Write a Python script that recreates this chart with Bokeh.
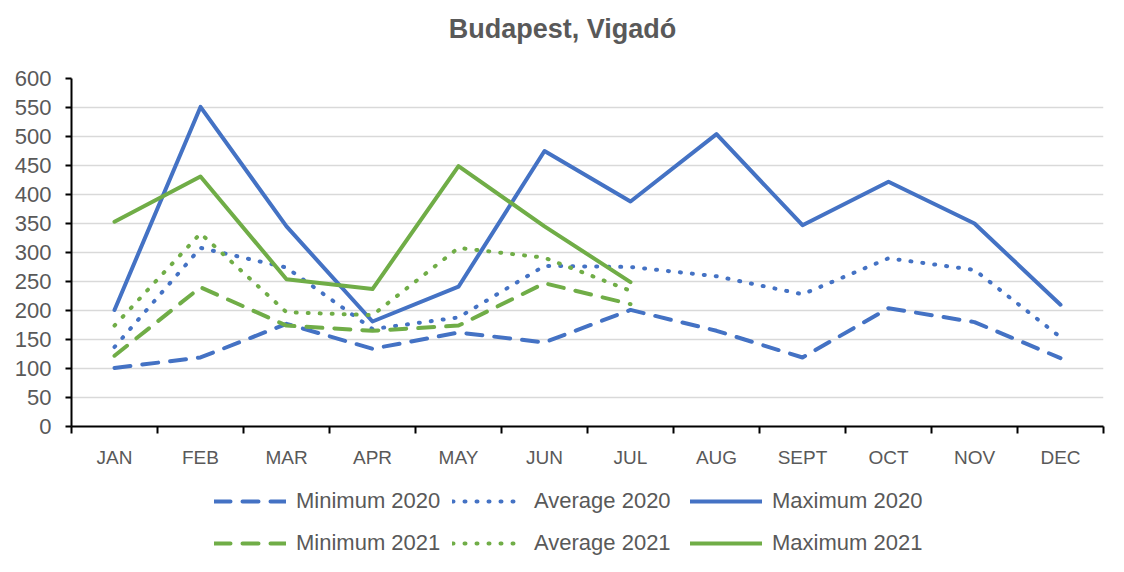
from bokeh.plotting import figure
from bokeh.models import FixedTicker, Legend, LegendItem, Range1d, Label
from bokeh.layouts import column
from bokeh.embed import file_html
from bokeh.resources import INLINE

title_text = "Budapest, Vigadó"
months = ["JAN", "FEB", "MAR", "APR", "MAY", "JUN", "JUL", "AUG", "SEPT", "OCT", "NOV", "DEC"]
min_2020 = [101, 119, 177, 134, 162, 145, 201, 165, 119, 204, 180, 118]
avg_2020 = [137, 308, 274, 168, 188, 277, 275, 259, 228, 290, 270, 154]
max_2020 = [201, 551, 345, 181, 241, 475, 388, 504, 347, 422, 350, 210]
min_2021 = [122, 240, 174, 165, 174, 247, 211]
avg_2021 = [174, 333, 197, 192, 308, 291, 234]
max_2021 = [353, 431, 254, 237, 449, 345, 249]
series_labels = ["Minimum 2020", "Average 2020", "Maximum 2020",
                 "Minimum 2021", "Average 2021", "Maximum 2021"]

BLUE = "#4472C4"
GREEN = "#70AD47"
TXT = "#595959"
FONT = "Liberation Sans"
W_FIG = 1108


def blank_strip(h):
    f = figure(width=W_FIG, height=h, output_backend="svg", toolbar_location=None,
               x_range=Range1d(0, 1), y_range=Range1d(0, 1),
               x_axis_type=None, y_axis_type=None, min_border=0)
    f.outline_line_color = None
    f.grid.grid_line_color = None
    f.title.visible = False
    return f


# ---- title strip
pt = blank_strip(56)
pt.add_layout(Label(x=562, y=28, x_units="canvas", y_units="canvas", text=title_text,
                    text_align="center", text_baseline="middle", text_font=FONT,
                    text_font_size="27px", text_font_style="bold", text_color=TXT))

# ---- main chart
xs = list(range(1, len(months) + 1))

p = figure(width=W_FIG, height=414, output_backend="svg", toolbar_location=None,
           x_range=Range1d(0.5, len(months) + 0.5), y_range=Range1d(0, 600),
           min_border_left=71, min_border_right=5, min_border_top=22,
           min_border_bottom=42)
p.title.visible = False
p.outline_line_color = None
p.xgrid.grid_line_color = None
p.ygrid.grid_line_color = "#d9d9d9"
p.ygrid.grid_line_width = 1.5

p.yaxis.ticker = FixedTicker(ticks=list(range(0, 601, 50)))
p.yaxis.major_tick_out = 6
p.yaxis.major_tick_in = 0
p.yaxis.minor_tick_line_color = None
p.yaxis.axis_line_color = "black"
p.yaxis.axis_line_width = 2
p.yaxis.major_tick_line_color = "black"
p.yaxis.major_tick_line_width = 2
p.yaxis.major_label_text_font = FONT
p.yaxis.major_label_text_font_size = "22px"
p.yaxis.major_label_text_color = TXT
p.yaxis.major_label_standoff = 14

p.xaxis.ticker = FixedTicker(ticks=xs, minor_ticks=[x - 0.5 for x in xs] + [xs[-1] + 0.5])
p.xaxis.major_label_overrides = {x: m for x, m in zip(xs, months)}
p.xaxis.major_tick_line_color = None
p.xaxis.major_tick_out = 0
p.xaxis.major_tick_in = 0
p.xaxis.minor_tick_out = 7
p.xaxis.minor_tick_in = 0
p.xaxis.minor_tick_line_color = "black"
p.xaxis.minor_tick_line_width = 2
p.xaxis.axis_line_color = "black"
p.xaxis.axis_line_width = 2
p.xaxis.major_label_text_font = FONT
p.xaxis.major_label_text_font_size = "19px"
p.xaxis.major_label_text_color = TXT
p.xaxis.major_label_standoff = 13

DASH = "16 12"
DOT = "1 11"
common = dict(line_width=4, line_cap="round", line_join="round")
styles = [
    dict(line_color=BLUE, line_dash=DASH),
    dict(line_color=BLUE, line_dash=DOT),
    dict(line_color=BLUE),
    dict(line_color=GREEN, line_dash=DASH),
    dict(line_color=GREEN, line_dash=DOT),
    dict(line_color=GREEN),
]

x21 = xs[:len(max_2021)]
data = [(xs, min_2020), (xs, avg_2020), (xs, max_2020),
        (x21, min_2021), (x21, avg_2021), (x21, max_2021)]
for (x, y), st in zip(data, styles):
    p.line(x, y, **st, **common)

# ---- legend strip (proxy renderers carry the same data; it lies outside this strip's range)
pl = blank_strip(86)
proxies = [pl.line(x, y, **st, **common) for (x, y), st in zip(data, styles)]


def make_legend(idx, loc):
    lg = Legend(items=[LegendItem(label=series_labels[i], renderers=[proxies[i]]) for i in idx],
                orientation="horizontal", location=loc)
    lg.label_text_font = FONT
    lg.label_text_font_size = "22px"
    lg.label_text_color = TXT
    lg.glyph_width = 72
    lg.glyph_height = 18
    lg.label_height = 18
    lg.label_width = 145
    lg.label_standoff = 10
    lg.spacing = 11
    lg.padding = 0
    lg.margin = 0
    lg.border_line_color = None
    lg.background_fill_alpha = 0
    return lg


pl.add_layout(make_legend([0, 1, 2], (143, 42)), "center")
pl.add_layout(make_legend([3, 4, 5], (143, 0)), "center")

open("out.html", "w").write(file_html(column(pt, p, pl, spacing=0), INLINE))
